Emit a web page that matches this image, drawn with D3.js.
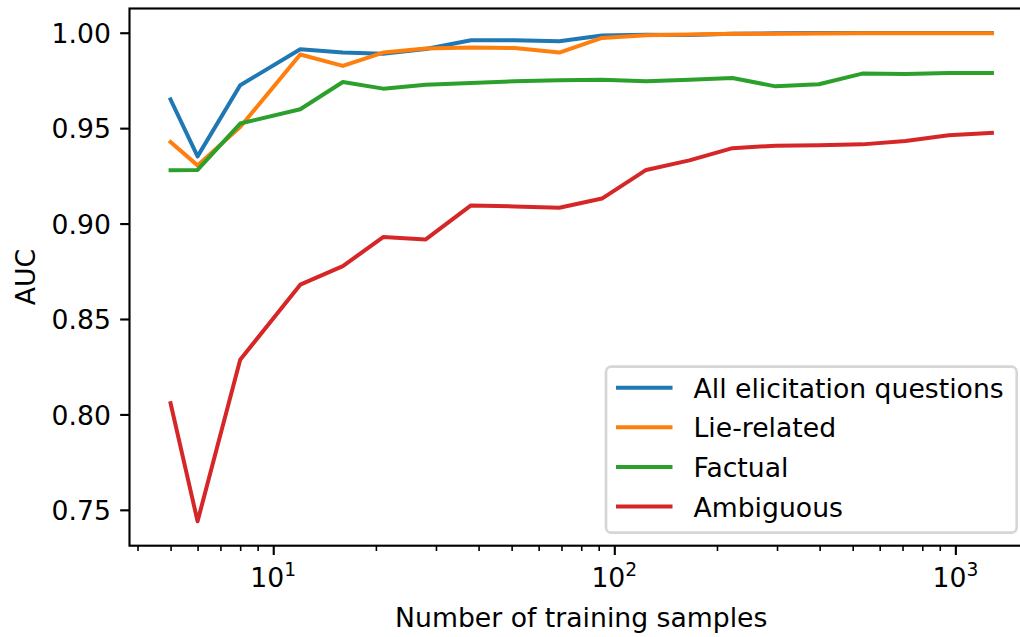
<!DOCTYPE html>
<html>
<head>
<meta charset="utf-8">
<script src="https://cdn.jsdelivr.net/npm/d3@7"></script>
<style>
  html, body { margin: 0; padding: 0; background: #fff; }
  svg { display: block; font-family: "DejaVu Sans", sans-serif; }
</style>
</head>
<body>
<svg id="chart" width="1020" height="637"></svg>
<script>
// ---- data ----
const trainingSamples = [5, 6, 8, 12, 16, 21, 28, 38, 51, 69, 92, 124, 166, 222, 297, 398, 533, 714, 956, 1280];
const seriesNames = ["All elicitation questions", "Lie-related", "Factual", "Ambiguous"];
const seriesColors = ["#1f77b4", "#ff7f0e", "#2ca02c", "#d62728"];
const allElicitation = [0.9650, 0.9352, 0.9725, 0.9913, 0.9896, 0.9890, 0.9915, 0.9961, 0.9961, 0.9955, 0.9985, 0.9990, 0.9988, 0.9995, 0.9997, 0.9998, 0.9998, 0.9999, 0.9999, 0.9999];
const lieRelated     = [0.9427, 0.9305, 0.9506, 0.9886, 0.9826, 0.9896, 0.9917, 0.9922, 0.9920, 0.9896, 0.9973, 0.9987, 0.9991, 0.9995, 0.9995, 0.9996, 0.9997, 0.9997, 0.9997, 0.9997];
const factual        = [0.9279, 0.9281, 0.9524, 0.9599, 0.9742, 0.9707, 0.9728, 0.9737, 0.9746, 0.9751, 0.9753, 0.9746, 0.9753, 0.9763, 0.9719, 0.9730, 0.9786, 0.9784, 0.9789, 0.9789];
const ambiguous      = [0.8059, 0.7440, 0.8286, 0.8680, 0.8777, 0.8929, 0.8917, 0.9095, 0.9090, 0.9083, 0.9131, 0.9281, 0.9331, 0.9395, 0.9408, 0.9410, 0.9415, 0.9433, 0.9463, 0.9475];
const yTickValues = [0.75, 0.80, 0.85, 0.90, 0.95, 1.00];
const xMajorTicks = [10, 100, 1000];
const xLabel = "Number of training samples";
const yLabel = "AUC";

const seriesValues = [allElicitation, lieRelated, factual, ambiguous];

// ---- layout ----
const svg = d3.select("#chart");
const L = 129.5, R = 1033, T = 8.5, B = 545.7;
const FS = 26.67;

// matplotlib-like 5% margins
const lx0 = Math.log10(d3.min(trainingSamples)), lx1 = Math.log10(d3.max(trainingSamples));
const mx = (lx1 - lx0) * 0.05;
const allVals = seriesValues.flat();
const y0 = d3.min(allVals), y1 = d3.max(allVals);
const my = (y1 - y0) * 0.05;

const x = d3.scaleLog().domain([Math.pow(10, lx0 - mx), Math.pow(10, lx1 + mx)]).range([L, R]);
const y = d3.scaleLinear().domain([y0 - my, y1 + my]).range([B, T]);

// lines (clipped to axes)
svg.append("defs").append("clipPath").attr("id", "clip")
  .append("rect").attr("x", L).attr("y", T).attr("width", R - L).attr("height", B - T);

const line = d3.line().x(d => x(d[0])).y(d => y(d[1]));
const gLines = svg.append("g").attr("clip-path", "url(#clip)");
seriesValues.forEach((vals, i) => {
  gLines.append("path")
    .datum(trainingSamples.map((s, j) => [s, vals[j]]))
    .attr("d", line)
    .attr("fill", "none")
    .attr("stroke", seriesColors[i])
    .attr("stroke-width", 4)
    .attr("stroke-linejoin", "round")
    .attr("stroke-linecap", "square");
});

// y axis
const yAxis = d3.axisLeft(y).tickValues(yTickValues).tickFormat(d3.format(".2f"))
  .tickSizeInner(9.33).tickSizeOuter(0).tickPadding(9.33);
const gy = svg.append("g").attr("transform", `translate(${L},0)`).call(yAxis);
gy.select(".domain").remove();
gy.selectAll(".tick line").attr("stroke", "#000").attr("stroke-width", 2.13);
gy.selectAll(".tick text").attr("font-size", FS).attr("fill", "#000")
  .attr("font-family", "DejaVu Sans").attr("dy", "0.36em");

// x axis: major ticks
const xAxis = d3.axisBottom(x).tickValues(xMajorTicks).tickFormat(() => "")
  .tickSizeInner(9.33).tickSizeOuter(0);
const gx = svg.append("g").attr("transform", `translate(0,${B})`).call(xAxis);
gx.select(".domain").remove();
gx.selectAll(".tick line").attr("stroke", "#000").attr("stroke-width", 2.13);
gx.selectAll(".tick text").remove();

// minor ticks
const [dmin, dmax] = x.domain();
const minor = [];
for (let e = Math.floor(Math.log10(dmin)); e <= Math.ceil(Math.log10(dmax)); e++) {
  for (let k = 2; k <= 9; k++) {
    const v = k * Math.pow(10, e);
    if (v >= dmin && v <= dmax) minor.push(v);
  }
}
const xMinor = d3.axisBottom(x).tickValues(minor).tickFormat(() => "").tickSizeInner(5.33).tickSizeOuter(0);
const gxm = svg.append("g").attr("transform", `translate(0,${B})`).call(xMinor);
gxm.select(".domain").remove();
gxm.selectAll(".tick line").attr("stroke", "#000").attr("stroke-width", 1.6);

// x tick labels as 10^n
xMajorTicks.forEach(v => {
  const t = svg.append("text")
    .attr("x", x(v)).attr("y", 586.7)
    .attr("text-anchor", "middle")
    .attr("font-size", FS).attr("fill", "#000");
  t.append("tspan").text("10");
  t.append("tspan").attr("font-size", FS * 0.7).attr("dy", -11).text(String(Math.round(Math.log10(v))));
});

// spines
const spines = svg.append("g").attr("stroke", "#000").attr("stroke-width", 2.13).attr("fill", "none");
spines.append("rect").attr("x", L).attr("y", T).attr("width", R - L).attr("height", B - T)
  .attr("stroke-linejoin", "miter");

// axis labels
svg.append("text").attr("x", (L + R) / 2).attr("y", 626.5).attr("text-anchor", "middle")
  .attr("font-size", FS).attr("fill", "#000").text(xLabel);
svg.append("text").attr("transform", `translate(35,${(T + B) / 2}) rotate(-90)`)
  .attr("text-anchor", "middle").attr("font-size", FS).attr("fill", "#000").text(yLabel);

// legend
const lg = svg.append("g");
lg.append("rect").attr("x", 606).attr("y", 366.7).attr("width", 410.7).attr("height", 166)
  .attr("rx", 5.3).attr("ry", 5.3)
  .attr("fill", "#fff").attr("fill-opacity", 0.8)
  .attr("stroke", "#cccccc").attr("stroke-opacity", 0.8).attr("stroke-width", 2.67);
const rowY = [387.7, 427.3, 466.9, 506.5];
seriesNames.forEach((name, i) => {
  lg.append("line").attr("x1", 616).attr("x2", 672.5).attr("y1", rowY[i]).attr("y2", rowY[i])
    .attr("stroke", seriesColors[i]).attr("stroke-width", 4).attr("stroke-linecap", "butt");
  lg.append("text").attr("x", 693.5).attr("y", rowY[i] + 10).attr("font-size", FS)
    .attr("fill", "#000").text(name);
});
</script>
</body>
</html>
